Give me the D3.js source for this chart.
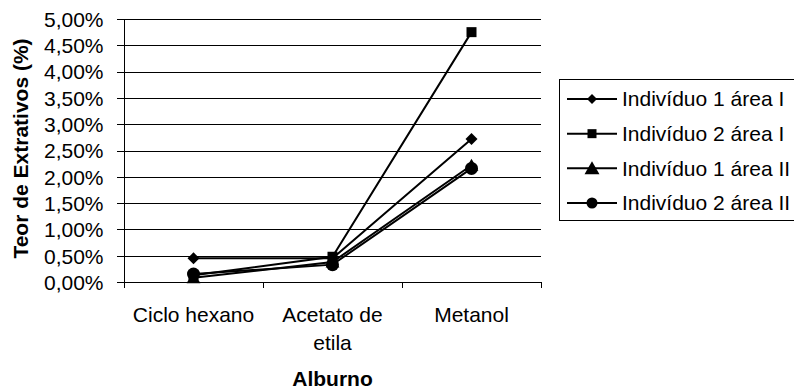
<!DOCTYPE html>
<html>
<head>
<meta charset="utf-8">
<script src="https://cdn.jsdelivr.net/npm/d3@7"></script>
<style>
  body { margin: 0; background: #fff; }
  svg { display: block; font-family: "Liberation Sans", Arial, sans-serif; }
</style>
</head>
<body>
<div id="chart"></div>
<script>
// dados
var categories = ["Ciclo hexano", "Acetato de etila", "Metanol"];
var categoryLines = [["Ciclo hexano"], ["Acetato de", "etila"], ["Metanol"]];
var seriesNames = ["Indivíduo 1 área I", "Indivíduo 2 área I", "Indivíduo 1 área II", "Indivíduo 2 área II"];
var seriesMarkers = ["diamond", "square", "triangle", "circle"];
var ind1areaI = [0.0045, 0.0045, 0.0272];
var ind2areaI = [0.0013, 0.0048, 0.0475];
var ind1areaII = [0.0008, 0.0038, 0.0222];
var ind2areaII = [0.0015, 0.0033, 0.0216];
var yTicks = [0, 0.005, 0.01, 0.015, 0.02, 0.025, 0.03, 0.035, 0.04, 0.045, 0.05];

var seriesValues = [ind1areaI, ind2areaI, ind1areaII, ind2areaII];

var W = 794, H = 389;
var plotLeft = 124, plotRight = 541, plotTop = 19, plotBottom = 282;
var fontSize = "21px";

var svg = d3.select("#chart").append("svg")
  .attr("width", W)
  .attr("height", H);

var x = d3.scaleBand().domain(categories).range([plotLeft, plotRight]);
var y = d3.scaleLinear().domain([0, 0.05]).range([plotBottom, plotTop]);

var pt = d3.formatLocale({decimal: ",", thousands: ".", grouping: [3], currency: ["", ""]});
var fmt = pt.format(".2%");

// linhas de grade
svg.append("g").selectAll("line")
  .data(yTicks)
  .enter().append("line")
  .attr("x1", plotLeft - 7)
  .attr("x2", plotRight)
  .attr("y1", function(d) { return Math.round(y(d)) + 0.5; })
  .attr("y2", function(d) { return Math.round(y(d)) + 0.5; })
  .attr("stroke", "#000")
  .attr("stroke-width", 1);

// eixo y
var yAxis = svg.append("g")
  .attr("transform", "translate(" + (plotLeft + 0.5) + ",0)")
  .call(d3.axisLeft(y).tickValues(yTicks).tickFormat(fmt).tickSize(7).tickPadding(14));
yAxis.select(".domain").remove();
yAxis.selectAll("line").remove();
yAxis.selectAll("text")
  .attr("font-size", fontSize)
  .attr("font-family", "Liberation Sans, Arial, sans-serif")
  .attr("fill", "#000")
  .attr("dy", "0.35em");

svg.append("line")
  .attr("x1", plotLeft + 0.5).attr("x2", plotLeft + 0.5)
  .attr("y1", plotTop).attr("y2", plotBottom + 6)
  .attr("stroke", "#000");

// eixo x (marcas entre categorias)
var bounds = categories.map(function(c) { return x(c); }).concat([x(categories[categories.length - 1]) + x.bandwidth()]);
svg.append("g").selectAll("line")
  .data(bounds.slice(1))
  .enter().append("line")
  .attr("x1", function(d) { return Math.round(d) + 0.5; })
  .attr("x2", function(d) { return Math.round(d) + 0.5; })
  .attr("y1", plotBottom)
  .attr("y2", plotBottom + 6)
  .attr("stroke", "#000");

// rótulos das categorias
var catLabels = svg.append("g").selectAll("text")
  .data(categories)
  .enter().append("text")
  .attr("x", function(d) { return x(d) + x.bandwidth() / 2; })
  .attr("y", 322)
  .attr("text-anchor", "middle")
  .attr("font-size", fontSize)
  .attr("fill", "#000");
catLabels.each(function(d, i) {
  var t = d3.select(this);
  categoryLines[i].forEach(function(line, j) {
    t.append("tspan")
      .attr("x", x(d) + x.bandwidth() / 2)
      .attr("dy", j == 0 ? 0 : 28)
      .text(line);
  });
});

// títulos
svg.append("text")
  .attr("x", x(categories[1]) + x.bandwidth() / 2)
  .attr("y", 386)
  .attr("text-anchor", "middle")
  .attr("font-size", fontSize)
  .attr("font-weight", "bold")
  .text("Alburno");

svg.append("text")
  .attr("transform", "translate(28," + ((plotTop + plotBottom) / 2 - 2) + ") rotate(-90)")
  .attr("text-anchor", "middle")
  .attr("font-size", fontSize)
  .attr("font-weight", "bold")
  .text("Teor de Extrativos (%)");

// marcadores
function markerPath(type, s) {
  var p = d3.path();
  if (type == "diamond") {
    p.moveTo(0, -s); p.lineTo(s, 0); p.lineTo(0, s); p.lineTo(-s, 0); p.closePath();
  } else if (type == "square") {
    p.rect(-s, -s, 2 * s, 2 * s);
  } else if (type == "triangle") {
    p.moveTo(0, -s * 1.1); p.lineTo(s * 1.15, s * 0.9); p.lineTo(-s * 1.15, s * 0.9); p.closePath();
  } else {
    p.arc(0, 0, s, 0, 2 * Math.PI);
  }
  return p.toString();
}
var plotSizes = {diamond: 6, square: 5, triangle: 6, circle: 6.5};
var legendSizes = {diamond: 5, square: 4.5, triangle: 6.5, circle: 5.5};

// séries
var line = d3.line()
  .x(function(d, i) { return x(categories[i]) + x.bandwidth() / 2; })
  .y(function(d) { return y(d); });

var gSeries = svg.append("g");
seriesValues.forEach(function(vals, k) {
  gSeries.append("path")
    .attr("d", line(vals))
    .attr("fill", "none")
    .attr("stroke", "#000")
    .attr("stroke-width", 2);
});
seriesValues.forEach(function(vals, k) {
  gSeries.append("g").selectAll("path")
    .data(vals)
    .enter().append("path")
    .attr("transform", function(d, i) { return "translate(" + (x(categories[i]) + x.bandwidth() / 2) + "," + y(d) + ")"; })
    .attr("d", markerPath(seriesMarkers[k], plotSizes[seriesMarkers[k]]))
    .attr("fill", "#000");
});

// legenda
var legend = svg.append("g");
legend.append("rect")
  .attr("x", 559.5).attr("y", 79.5)
  .attr("width", 240).attr("height", 141)
  .attr("fill", "#fff")
  .attr("stroke", "#000");
var rowY = d3.scalePoint().domain(seriesNames).range([99, 203]);
seriesNames.forEach(function(name, k) {
  var yy = rowY(name);
  legend.append("line")
    .attr("x1", 567).attr("x2", 617)
    .attr("y1", yy).attr("y2", yy)
    .attr("stroke", "#000").attr("stroke-width", 2);
  legend.append("path")
    .attr("transform", "translate(592," + yy + ")")
    .attr("d", markerPath(seriesMarkers[k], legendSizes[seriesMarkers[k]]))
    .attr("fill", "#000");
  legend.append("text")
    .attr("x", 622)
    .attr("y", yy)
    .attr("dy", "0.35em")
    .attr("font-size", fontSize)
    .text(name);
});
</script>
</body>
</html>
